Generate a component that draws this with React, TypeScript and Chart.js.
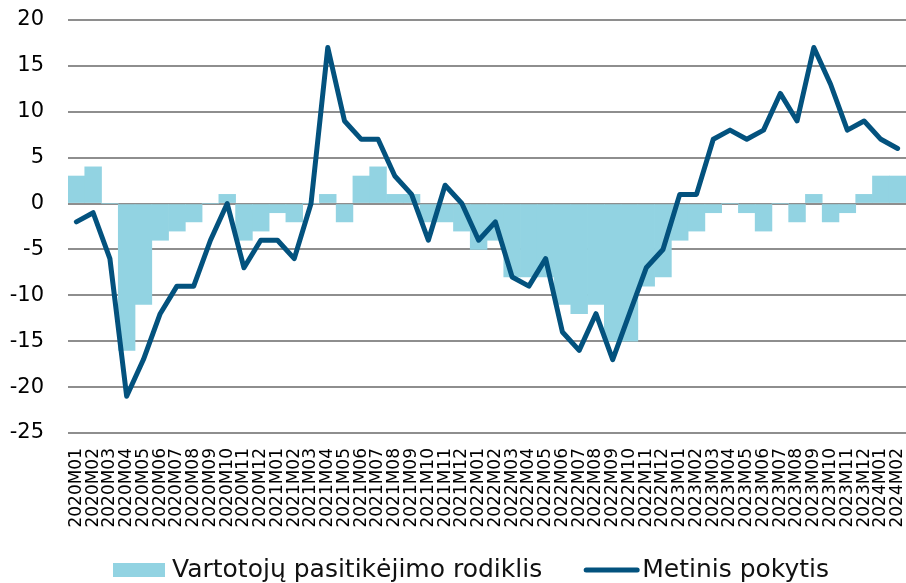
import React, { useEffect, useRef } from "react";
import { Chart, registerables } from "chart.js";

Chart.register(...registerables);

const months: string[] = [
  "2020M01","2020M02","2020M03","2020M04","2020M05","2020M06","2020M07","2020M08","2020M09","2020M10","2020M11","2020M12",
  "2021M01","2021M02","2021M03","2021M04","2021M05","2021M06","2021M07","2021M08","2021M09","2021M10","2021M11","2021M12",
  "2022M01","2022M02","2022M03","2022M04","2022M05","2022M06","2022M07","2022M08","2022M09","2022M10","2022M11","2022M12",
  "2023M01","2023M02","2023M03","2023M04","2023M05","2023M06","2023M07","2023M08","2023M09","2023M10","2023M11","2023M12",
  "2024M01","2024M02",
];

const confidenceIndicator: number[] = [
  3, 4, 0, -16, -11, -4, -3, -2, 0, 1, -4, -3,
  -1, -2, 0, 1, -2, 3, 4, 1, 1, -2, -2, -3,
  -5, -4, -8, -8, -8, -11, -12, -11, -15, -15, -9, -8,
  -4, -3, -1, 0, -1, -3, 0, -2, 1, -2, -1, 1,
  3, 3,
];

const annualChange: number[] = [
  -2, -1, -6, -21, -17, -12, -9, -9, -4, 0, -7, -4,
  -4, -6, 0, 17, 9, 7, 7, 3, 1, -4, 2, 0,
  -4, -2, -8, -9, -6, -14, -16, -12, -17, -12, -7, -5,
  1, 1, 7, 8, 7, 8, 12, 9, 17, 13, 8, 9,
  7, 6,
];

const seriesNames: string[] = ["Vartotojų pasitikėjimo rodiklis", "Metinis pokytis"];

const yMin = -25;
const yMax = 20;
const yStep = 5;

const BAR_COLOR = "#92D3E2";
const LINE_COLOR = "#03527E";
const FONT = "'DejaVu Sans', Verdana, sans-serif";

const customLegend = {
  id: "customLegend",
  afterDraw(chart: any) {
    const ctx = chart.ctx;
    const y = 570;
    ctx.save();
    ctx.font = `25px ${FONT}`;
    ctx.textBaseline = "middle";
    ctx.textAlign = "left";
    ctx.fillStyle = "#111";
    let x = 113;
    // bar item
    ctx.fillStyle = BAR_COLOR;
    ctx.fillRect(x, y - 7, 52, 14);
    x += 52 + 7;
    ctx.fillStyle = "#111";
    ctx.fillText(chart.data.datasets[0].label, x, y);
    x += ctx.measureText(chart.data.datasets[0].label).width + 42;
    // line item
    ctx.strokeStyle = LINE_COLOR;
    ctx.lineWidth = 5;
    ctx.lineCap = "round";
    ctx.beginPath();
    ctx.moveTo(x + 2, y);
    ctx.lineTo(x + 53, y);
    ctx.stroke();
    x += 58;
    ctx.fillText(chart.data.datasets[1].label, x, y);
    ctx.restore();
  },
};

export default function App() {
  const canvasRef = useRef<HTMLCanvasElement | null>(null);

  useEffect(() => {
    const canvas = canvasRef.current;
    if (!canvas) return;
    const chart = new Chart(canvas, {
      type: "bar",
      data: {
        labels: months,
        datasets: [
          {
            type: "bar",
            label: seriesNames[0],
            data: confidenceIndicator,
            backgroundColor: BAR_COLOR,
            borderWidth: 0,
            barPercentage: 1,
            categoryPercentage: 1,
            order: 1,
          },
          {
            type: "line",
            label: seriesNames[1],
            data: annualChange,
            borderColor: LINE_COLOR,
            backgroundColor: LINE_COLOR,
            borderWidth: 5,
            pointRadius: 0,
            pointHoverRadius: 0,
            tension: 0,
            borderJoinStyle: "round",
            borderCapStyle: "round",
            fill: false,
            order: 0,
          },
        ],
      },
      options: {
        animation: false,
        responsive: true,
        maintainAspectRatio: false,
        layout: { padding: { top: 20, right: 0, left: 0, bottom: 40 } },
        plugins: {
          tooltip: { enabled: false },
          legend: { display: false },
        },
        scales: {
          x: {
            offset: true,
            grid: { display: false, drawTicks: false },
            border: { display: false },
            ticks: {
              autoSkip: false,
              maxRotation: 90,
              minRotation: 90,
              padding: 15,
              color: "#000",
              font: { family: FONT, size: 17 },
            },
            afterFit: (s: any) => {
              s.height = 110;
              s.paddingLeft = 0;
              s.paddingRight = 0;
            },
          },
          y: {
            min: yMin,
            max: yMax,
            grid: { color: "#8e8e8e", lineWidth: 2, drawTicks: false },
            border: { display: false },
            ticks: {
              stepSize: yStep,
              padding: 24,
              color: "#000",
              font: { family: FONT, size: 21 },
            },
            afterFit: (s: any) => {
              s.width = 68;
              s.paddingTop = 0;
              s.paddingBottom = 0;
            },
          },
        },
      },
      plugins: [customLegend],
    });
    return () => chart.destroy();
  }, []);

  return (
    <div style={{ position: "fixed", left: 0, top: 0, width: 906, height: 583, background: "#fff" }}>
      <canvas ref={canvasRef} />
    </div>
  );
}
